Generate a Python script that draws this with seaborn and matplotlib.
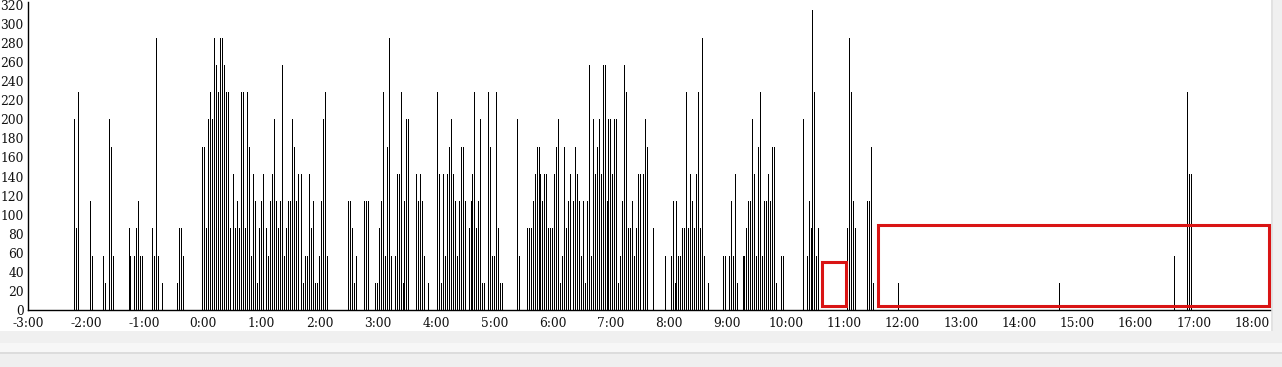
import matplotlib
matplotlib.use("Agg")
import matplotlib.pyplot as plt
import matplotlib.patches as mpatches
import pandas as pd
import seaborn as sns

# ── Data: one slot per 2-minute bin, 30 slots per hour ────────────────────
# heights are counted in steps of 200/7 on the y scale
BIN_MINUTES = 2
STEP = 200 / 7

hr_m3 = [0, 0, 0, 0, 0, 0, 0, 0, 0, 0, 0, 0, 0, 0, 0, 0, 0, 0, 0, 0, 0, 0, 0, 0, 7, 3, 8, 0, 0, 0]
hr_m2 = [0, 0, 4, 2, 0, 0, 0, 0, 0, 2, 1, 0, 7, 6, 2, 0, 0, 0, 0, 0, 0, 0, 3, 2, 0, 2, 3, 4, 2, 2]
hr_m1 = [0, 0, 0, 0, 3, 2, 10, 2, 0, 1, 0, 0, 0, 0, 0, 0, 0, 1, 3, 3, 2, 0, 0, 0, 0, 0, 0, 0, 0, 0]
hr_00 = [6, 6, 3, 7, 8, 7, 10, 9, 8, 10, 10, 9, 8, 8, 3, 0, 5, 3, 4, 3, 8, 8, 3, 8, 6, 2, 5, 4, 1, 3]
hr_01 = [4, 5, 0, 3, 2, 4, 5, 7, 4, 3, 4, 9, 2, 3, 4, 4, 7, 6, 4, 5, 0, 5, 1, 2, 2, 5, 3, 4, 1, 1]
hr_02 = [2, 4, 7, 8, 2, 0, 0, 0, 0, 0, 0, 0, 0, 0, 0, 4, 4, 3, 1, 2, 0, 0, 0, 4, 4, 4, 0, 0, 0, 1]
hr_03 = [1, 3, 4, 8, 2, 6, 10, 2, 0, 2, 5, 5, 8, 1, 4, 7, 7, 0, 0, 0, 5, 4, 5, 4, 2, 0, 1, 0, 0, 0]
hr_04 = [0, 8, 5, 1, 5, 2, 5, 6, 7, 5, 4, 2, 4, 6, 6, 4, 0, 3, 4, 5, 8, 3, 4, 7, 1, 1, 0, 8, 6, 2]
hr_05 = [2, 8, 3, 1, 1, 0, 0, 0, 0, 0, 0, 0, 7, 2, 0, 0, 0, 3, 3, 3, 4, 5, 6, 6, 5, 4, 5, 5, 3, 3]
hr_06 = [3, 5, 6, 7, 1, 2, 6, 3, 4, 5, 0, 4, 6, 5, 4, 2, 4, 1, 4, 9, 2, 7, 5, 6, 7, 5, 9, 9, 4, 7]
hr_07 = [7, 5, 7, 7, 1, 2, 4, 9, 8, 3, 3, 4, 2, 3, 5, 5, 0, 5, 7, 6, 0, 0, 3, 0, 0, 0, 0, 0, 2, 0]
hr_08 = [0, 2, 4, 1, 4, 2, 2, 3, 3, 8, 3, 5, 4, 3, 5, 8, 3, 10, 2, 0, 1, 0, 0, 0, 0, 0, 0, 0, 2, 2]
hr_09 = [0, 2, 4, 2, 5, 1, 0, 0, 2, 2, 3, 4, 4, 7, 5, 2, 6, 8, 2, 4, 4, 5, 4, 6, 6, 1, 0, 0, 2, 2]
hr_10 = [0, 0, 0, 0, 0, 0, 0, 0, 0, 7, 0, 2, 4, 3, 11, 8, 2, 3, 0, 0, 0, 0, 0, 0, 0, 0, 0, 0, 0, 0]
hr_11 = [0, 0, 3, 10, 8, 4, 3, 0, 0, 0, 0, 0, 4, 4, 6, 1, 0, 0, 0, 0, 0, 0, 0, 0, 0, 0, 0, 0, 1, 0]
hr_14 = [0, 0, 0, 0, 0, 0, 0, 0, 0, 0, 0, 0, 0, 0, 0, 0, 0, 0, 0, 0, 0, 1, 0, 0, 0, 0, 0, 0, 0, 0]
hr_16 = [0, 0, 0, 0, 0, 0, 0, 0, 0, 0, 0, 0, 0, 0, 0, 0, 0, 0, 0, 0, 2, 0, 0, 0, 0, 0, 0, 8, 5, 5]

HOURS = [(-3, hr_m3), (-2, hr_m2), (-1, hr_m1), (0, hr_00), (1, hr_01), (2, hr_02),
         (3, hr_03), (4, hr_04), (5, hr_05), (6, hr_06), (7, hr_07), (8, hr_08),
         (9, hr_09), (10, hr_10), (11, hr_11), (14, hr_14), (16, hr_16)]

X_TICKS = list(range(-3, 19))
X_LABELS = [f"{h}:00" for h in X_TICKS]
Y_TICKS = list(range(0, 321, 20))

# highlight boxes (hours, y-values)
BOXES = [(10.62, 3.9, 11.03, 50.0), (11.59, 4.5, 18.285, 88.8)]

rows = []
for hour, levels in HOURS:
    for i, lv in enumerate(levels):
        if lv:
            rows.append({"hour": hour + i * BIN_MINUTES / 60, "value": lv * STEP})
df = pd.DataFrame(rows)

# ── Figure ────────────────────────────────────────────────────────────────
plt.rcParams["font.family"] = ["DejaVu Serif"]
W, H = 1282, 367
fig = plt.figure(figsize=(W / 100, H / 100), dpi=100, facecolor="white")


def px_rect(x0, y0, x1, y1, color):
    fig.add_artist(mpatches.Rectangle((x0 / W, 1 - y1 / H), (x1 - x0) / W, (y1 - y0) / H,
                                      transform=fig.transFigure, facecolor=color,
                                      edgecolor="none", zorder=-5))


# frame around the plot area (screenshot chrome)
px_rect(1271, 0, 1282, 343, "#f0f0f0")
px_rect(1271, 0, 1273, 331, "#e2e2e2")
px_rect(0, 331, 1282, 343, "#f0f0f0")
px_rect(0, 343, 1282, 352, "#f7f7f7")
px_rect(0, 352, 1282, 354, "#dcdcdc")
px_rect(0, 354, 1282, 367, "#efefef")

ax = fig.add_axes([28 / W, (H - 310) / H, (1270 - 28) / W, (310 - 2) / H])

sns.barplot(data=df, x="hour", y="value", native_scale=True, orient="x",
            width=0.515, color="black", saturation=1, errorbar=None,
            linewidth=0, ax=ax)

ax.set_xlim(-3, 18.307)
ax.set_ylim(0, 323)
ax.set_xticks(X_TICKS)
ax.set_xticklabels(X_LABELS)
ax.set_yticks(Y_TICKS)
ax.set_xlabel("")
ax.set_ylabel("")
ax.tick_params(axis="both", length=0, labelsize=8.8, colors="#111111")
ax.tick_params(axis="x", pad=5)
ax.tick_params(axis="y", pad=3)
ax.spines[["top", "right"]].set_visible(False)
ax.spines[["left", "bottom"]].set_linewidth(1.0)
ax.spines[["left", "bottom"]].set_color("black")

for x0, y0, x1, y1 in BOXES:
    ax.add_patch(mpatches.Rectangle((x0, y0), x1 - x0, y1 - y0, fill=False,
                                    edgecolor="#d91414", linewidth=2.2,
                                    clip_on=False, zorder=5))

fig.savefig("out.png", dpi=100, facecolor=fig.get_facecolor())
